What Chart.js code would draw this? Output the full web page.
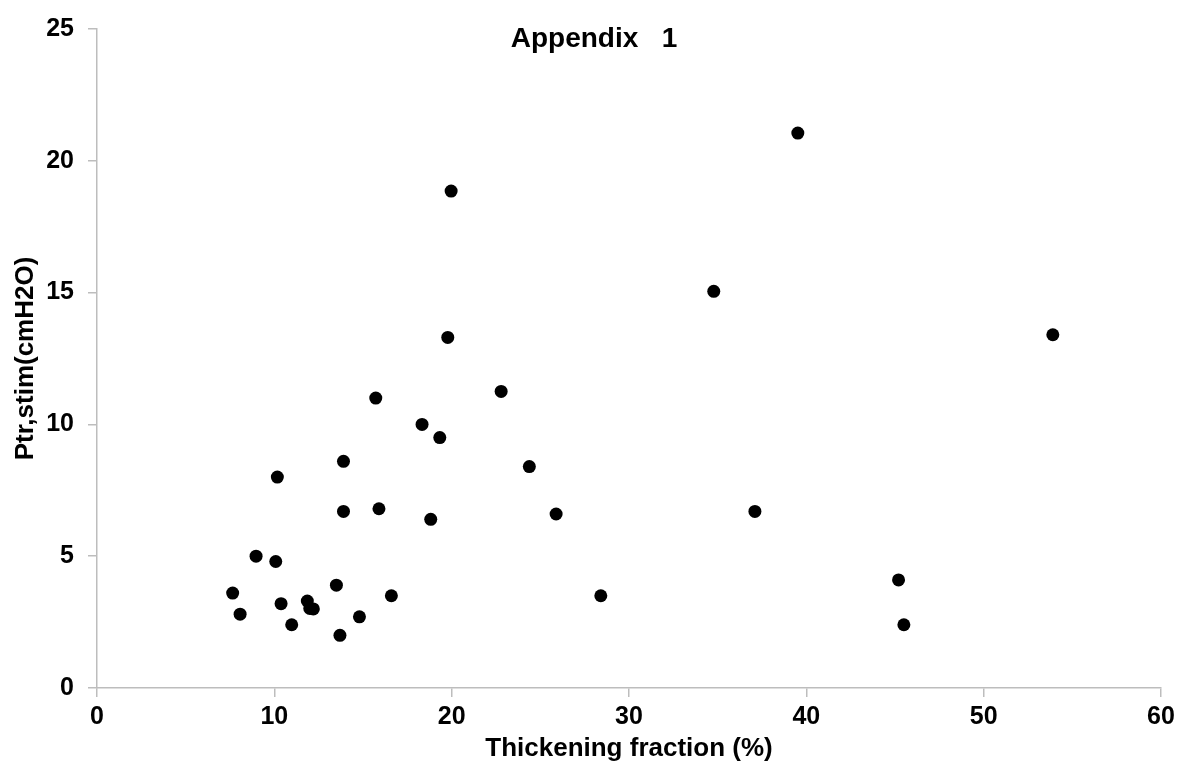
<!DOCTYPE html>
<html>
<head>
<meta charset="utf-8">
<title>Appendix 1</title>
<script src="https://cdn.jsdelivr.net/npm/chart.js@4.4.1/dist/chart.umd.min.js"></script>
<style>
  html, body { margin: 0; padding: 0; background: #fff; }
  #wrap { width: 1188px; height: 777px; position: relative; }
</style>
</head>
<body>
<div id="wrap"><canvas id="chartScatter"></canvas></div>
<script>
// ==== DATA ====
const thickening = [7.65, 8.07, 8.97, 10.08, 10.17, 10.38, 10.98, 11.86, 12.0, 12.2,
                    13.5, 13.7, 13.9, 13.9, 14.8, 15.72, 15.9, 16.6, 18.33, 18.82,
                    19.33, 19.78, 19.97, 22.79, 24.38, 25.89, 28.41, 34.78, 37.1, 39.52,
                    45.2, 45.5, 53.9];
const ptrStim = [3.6, 2.8, 5.0, 4.8, 8.0, 3.2, 2.4, 3.3, 3.02, 3.0,
                 3.9, 2.0, 8.6, 6.7, 2.7, 11.0, 6.8, 3.5, 10.0, 6.4,
                 9.5, 13.3, 18.85, 11.25, 8.4, 6.6, 3.5, 15.05, 6.7, 21.05,
                 4.1, 2.4, 13.4];
const xTicks = [0, 10, 20, 30, 40, 50, 60];
const yTicks = [0, 5, 10, 15, 20, 25];

const chartTitle = "Appendix   1";
const xTitle = "Thickening fraction (%)";
const yTitle = "Ptr,stim(cmH2O)";

const FONT = "'Liberation Sans', Arial, sans-serif";
const AXIS_GRAY = "#bdbdbd";

const points = thickening.map((x, i) => ({ x, y: ptrStim[i] }));

// title sits inside the plot, centred on the whole canvas
const titlePlugin = {
    id: "insideTitle",
    afterDraw(chart) {
        const ctx = chart.ctx;
        ctx.save();
        ctx.font = "bold 28px " + FONT;
        ctx.fillStyle = "#000";
        ctx.textAlign = "center";
        ctx.textBaseline = "middle";
        ctx.fillText(chartTitle, chart.width / 2, 39);
        ctx.restore();
    }
};

new Chart(document.getElementById("chartScatter"), {
    type: "scatter",
    data: {
        datasets: [{
            data: points,
            backgroundColor: "#000",
            borderColor: "#000",
            borderWidth: 0,
            pointRadius: 6.5,
            pointHoverRadius: 6.5
        }]
    },
    options: {
        responsive: true,
        maintainAspectRatio: false,
        animation: false,
        devicePixelRatio: 1,
        layout: { padding: { top: 28, right: 27, left: 0, bottom: 0 } },
        plugins: {
            legend: { display: false },
            tooltip: { enabled: false },
            title: { display: false }
        },
        scales: {
            x: {
                type: "linear",
                min: 0, max: 60,
                afterBuildTicks: s => { s.ticks = xTicks.map(v => ({ value: v })); },
                afterFit: s => { s.height = 89; },
                ticks: { color: "#000", font: { family: FONT, size: 25, weight: "bold" }, padding: 5 },
                grid: { drawOnChartArea: false, tickLength: 9, color: AXIS_GRAY, lineWidth: 1.5 },
                border: { color: AXIS_GRAY, width: 1.5 },
                title: {
                    display: true, text: xTitle, color: "#000",
                    font: { family: FONT, size: 26, weight: "bold" },
                    padding: { top: 0, bottom: 13 }
                }
            },
            y: {
                type: "linear",
                min: 0, max: 25,
                afterBuildTicks: s => { s.ticks = yTicks.map(v => ({ value: v })); },
                afterFit: s => { s.width = 97; },
                ticks: { color: "#000", font: { family: FONT, size: 25, weight: "bold" }, padding: 14 },
                grid: { drawOnChartArea: false, tickLength: 9, color: AXIS_GRAY, lineWidth: 1.5 },
                border: { color: AXIS_GRAY, width: 1.5 },
                title: {
                    display: true, text: yTitle, color: "#000",
                    font: { family: FONT, size: 26, weight: "bold" },
                    padding: { top: 10, bottom: 0 }
                }
            }
        }
    },
    plugins: [titlePlugin]
});
</script>
</body>
</html>
